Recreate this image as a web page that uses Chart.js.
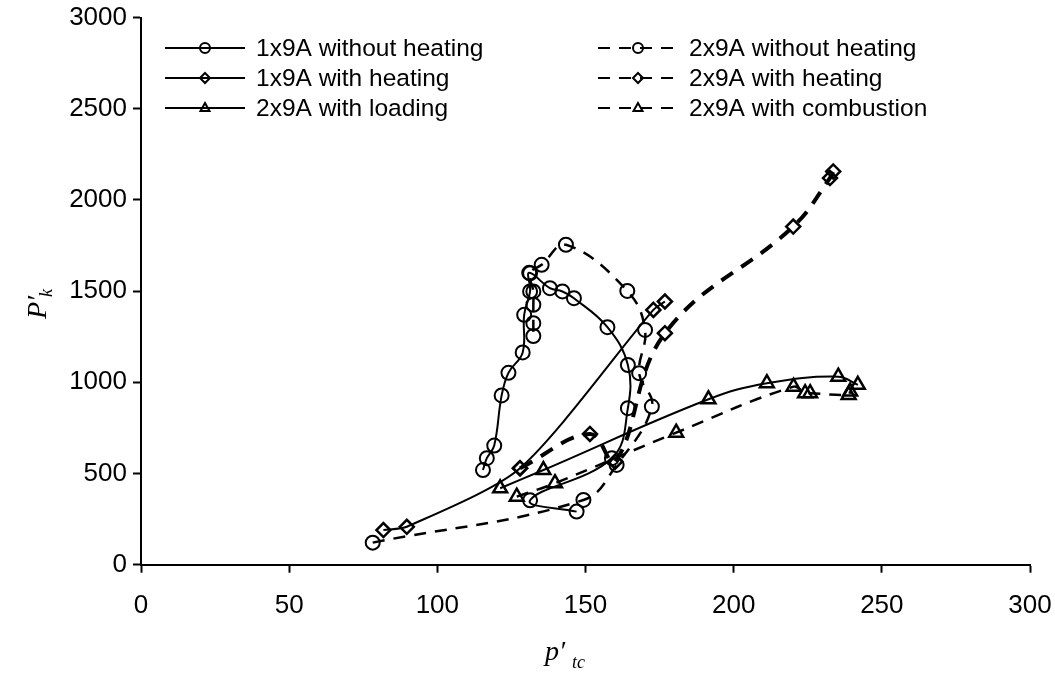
<!DOCTYPE html>
<html><head><meta charset="utf-8">
<script src="https://cdn.jsdelivr.net/npm/chart.js@4.4.0/dist/chart.umd.min.js"></script>
<style>html,body{margin:0;padding:0;background:#fff}</style>
</head><body>
<canvas id="c" width="1055" height="686"></canvas>
<script>
const seriesNames = ["1x9A without heating","2x9A without heating","1x9A with heating","2x9A with heating","2x9A with loading","2x9A with combustion"];
const xTicks = [0,50,100,150,200,250,300];
const yTicks = [0,500,1000,1500,2000,2500,3000];

const s1x = [115.4,116.7,119.2,121.7,124.0,128.8,129.3,131.3,131.0,138.0,142.2,146.1,157.4,164.3,164.3,158.9,131.3,147.0];
const s1y = [519,584,653,928,1052,1164,1370,1498,1600,1516,1498,1461,1302,1095,858,584,353,291];
const s2x = [78.2,149.3,160.5,172.4,168.1,170.1,164.1,143.4,135.2,131.3,132.4,132.4,132.4,132.4];
const s2y = [121,355,547,867,1050,1287,1501,1754,1644,1598,1498,1425,1324,1254];
const s3x = [81.8,89.7,127.9,172.9,176.8];
const s3y = [190,208,529,1397,1443];
const s4x = [127.9,151.5,160.0,176.8,220.1,232.5,233.6];
const s4y = [529,717,565,1269,1854,2120,2156];
const s5x = [121.2,135.8,191.5,211.2,235.3,241.9];
const s5y = [419,519,907,995,1031,986];
const s6x = [126.8,139.7,180.6,220.2,224.1,225.8,238.8,239.3];
const s6y = [373,447,724,976,940,940,931,949];

const styles = [
  {dash:[], width:2, point:'circle', tension:0.4, r:7, bw:2},
  {dash:[12,9], width:2.5, point:'circle', tension:0.4, r:7, bw:2},
  {dash:[], width:2, point:'rectRot', tension:0.25, r:7, bw:2.5},
  {dash:[14,10], width:4, point:'rectRot', tension:0.4, r:7, bw:2.5},
  {dash:[], width:2, point:'triangle', tension:0.4, r:8, bw:2.5},
  {dash:[12,9], width:2.5, point:'triangle', tension:0.4, r:8, bw:2.5}
];
const allX = [s1x,s2x,s3x,s4x,s5x,s6x];
const allY = [s1y,s2y,s3y,s4y,s5y,s6y];

const datasets = allX.map((xs,k)=>({
  label: seriesNames[k],
  data: xs.map((x,i)=>({x:x,y:allY[k][i]})),
  showLine:true,
  tension:styles[k].tension,
  borderColor:'#000',
  borderWidth:styles[k].width,
  borderDash:styles[k].dash,
  pointStyle:styles[k].point,
  pointRadius:styles[k].r,
  pointBorderWidth:styles[k].bw,
  pointBorderColor:'#000',
  pointBackgroundColor:'rgba(0,0,0,0)'
}));

function drawMarker(ctx, style, cx, cy, r){
  ctx.save();
  ctx.setLineDash([]);
  ctx.lineWidth = 2;
  ctx.strokeStyle = '#000';
  ctx.beginPath();
  if(style==='circle'){ ctx.arc(cx,cy,r,0,Math.PI*2); }
  else if(style==='rectRot'){ ctx.moveTo(cx,cy-r); ctx.lineTo(cx+r,cy); ctx.lineTo(cx,cy+r); ctx.lineTo(cx-r,cy); ctx.closePath(); }
  else { ctx.moveTo(cx,cy-r); ctx.lineTo(cx+r*0.9,cy+r*0.6); ctx.lineTo(cx-r*0.9,cy+r*0.6); ctx.closePath(); }
  ctx.stroke();
  ctx.restore();
}

const customPlugin = {
  id:'custom',
  afterDraw(chart){
    const ctx = chart.ctx;
    ctx.save();
    const cols = [165, 598];
    const rows = [48, 78, 108];
    ctx.font = '24.5px "Liberation Sans", Arial, sans-serif';
    ctx.fillStyle = '#000';
    ctx.textBaseline = 'middle';
    seriesNames.forEach((name,k)=>{
      const col = k%2, row = Math.floor(k/2);
      const x0 = cols[col], y = rows[row];
      ctx.save();
      ctx.strokeStyle='#000';
      ctx.lineWidth = 2;
      ctx.setLineDash(styles[k].dash.length ? [12,9] : []);
      ctx.beginPath(); ctx.moveTo(x0,y); ctx.lineTo(x0+80,y); ctx.stroke();
      ctx.restore();
      drawMarker(ctx, styles[k].point, x0+40, y, 5);
      ctx.fillText(name, x0+91, y+1);
    });
    // y title
    ctx.save();
    ctx.translate(38, 305);
    ctx.rotate(-Math.PI/2);
    ctx.font = 'italic 28px "Liberation Serif", "Times New Roman", serif';
    ctx.textBaseline='alphabetic';
    ctx.fillText('P\u2032', -14, 8);
    ctx.font = 'italic 18px "Liberation Serif", "Times New Roman", serif';
    ctx.fillText('k', 8, 14);
    ctx.restore();
    // x title
    ctx.font = 'italic 28px "Liberation Serif", "Times New Roman", serif';
    ctx.textBaseline='alphabetic';
    ctx.fillText('p\u2032', 545, 660);
    ctx.font = 'italic 18px "Liberation Serif", "Times New Roman", serif';
    ctx.fillText('tc', 572, 668);
    ctx.restore();
  }
};

const tickFont = {family:'"Liberation Sans", Arial, sans-serif', size:26};
new Chart(document.getElementById('c'), {
  type:'scatter',
  data:{datasets:datasets},
  options:{
    responsive:false,
    animation:false,
    layout:{padding:{left:0,right:25,top:17.5,bottom:0}},
    plugins:{legend:{display:false}, tooltip:{enabled:false}},
    scales:{
      x:{type:'linear', min:0, max:300,
        afterBuildTicks(s){ s.ticks = xTicks.map(v=>({value:v})); },
        ticks:{color:'#000', font:tickFont, padding:18, maxRotation:0, callback:v=>String(v)},
        grid:{drawOnChartArea:false, tickLength:8, color:'#000', tickWidth:2, tickColor:'#000'},
        border:{color:'#000', width:2},
        afterFit(s){ s.height = 121.3; s.paddingLeft = 0; s.paddingRight = 0; }
      },
      y:{type:'linear', min:0, max:3000,
        afterBuildTicks(s){ s.ticks = yTicks.map(v=>({value:v})); },
        ticks:{color:'#000', font:tickFont, padding:6, callback:v=>String(v)},
        grid:{drawOnChartArea:false, tickLength:8, color:'#000', tickWidth:2, tickColor:'#000'},
        border:{color:'#000', width:2},
        afterFit(s){ s.width = 141; s.paddingTop = 0; s.paddingBottom = 0; }
      }
    }
  },
  plugins:[customPlugin]
});
</script>
</body></html>
